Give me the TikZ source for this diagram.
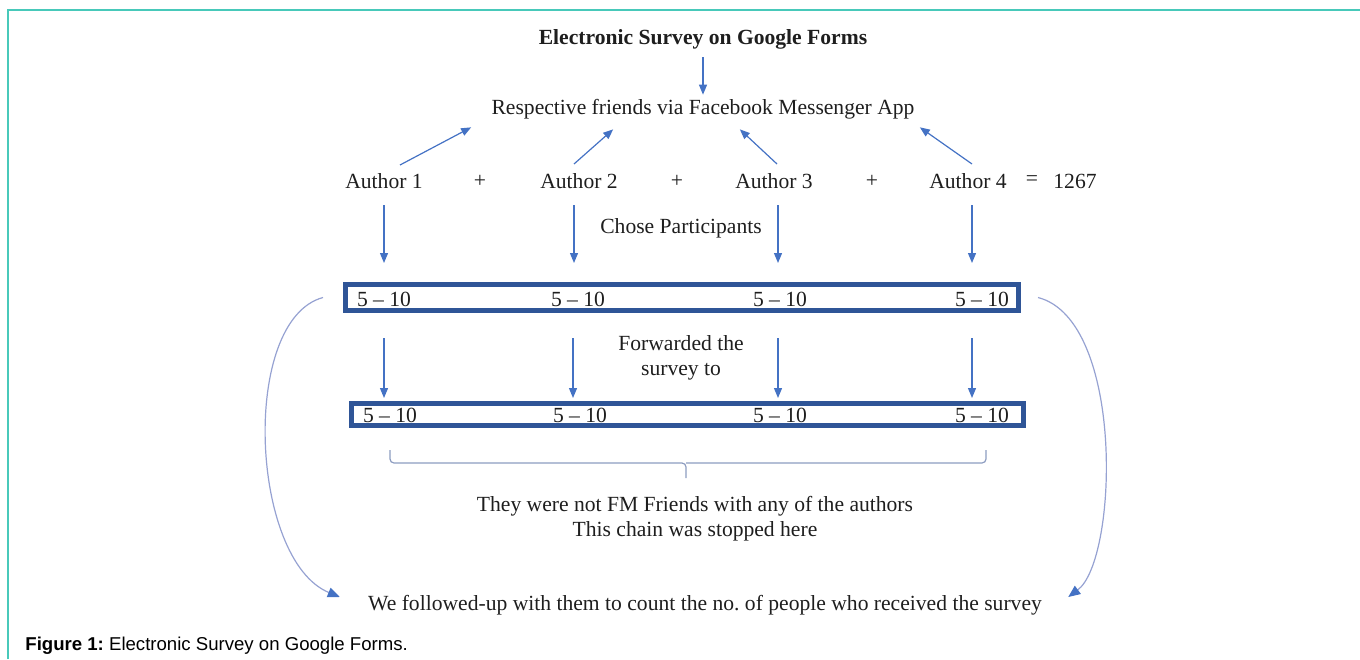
\documentclass[tikz,border=0pt]{standalone}
\usepackage{fontspec}
\setmainfont{Liberation Serif}
\newfontfamily\capfont{Liberation Sans}
\usetikzlibrary{arrows.meta,calc}
\definecolor{framecol}{RGB}{72,201,186}
\definecolor{arrblue}{RGB}{68,114,196}
\definecolor{boxblue}{RGB}{47,85,151}
\definecolor{curveblue}{RGB}{150,162,210}
\definecolor{bracecol}{RGB}{140,156,192}
\definecolor{txt}{RGB}{30,30,30}
\frenchspacing

\begin{document}
\begin{tikzpicture}[x=0.5pt,y=0.5pt]
\tikzstyle{every node}+=[inner sep=0pt, text=txt, font=\fontsize{10.8}{12.5}\selectfont]
\tikzstyle{arr}=[arrblue, line width=0.6pt, -{Triangle[length=5pt,width=4pt]}]
\tikzstyle{curarr}=[curveblue, line width=0.6pt, -{Triangle[length=6pt,width=5pt,color=arrblue]}]
\tikzstyle{rowbox}=[draw=boxblue, line width=2.5pt, fill=none]
\useasboundingbox (0,0) rectangle (1360,-659);
\draw [framecol, line width=1pt] (8,-659) -- (8,-10) -- (1360,-10);
\node (title) at (703,-39) {\textbf{Electronic Survey on Google Forms}};
\node (resp) at (703,-109) {Respective friends via Facebook Messenger App};
\draw [arr, shorten <=4pt, shorten >=2pt] (title.south) -- (resp.north);
\node (a1) at (384,-181) {Author 1};
\node (p1) at (480,-181) {+};
\node (a2) at (579,-181) {Author 2};
\node (p2) at (677,-181) {+};
\node (a3) at (774,-181) {Author 3};
\node (p3) at (872,-181) {+};
\node (a4) at (968,-181) {Author 4};
\node (eq) at (1032,-181) {=};
\node (total) at (1075,-181) {1267};
\draw [arr] ($(a1.north)+(16,8)$) -- ($(resp.south west)+(-20,-8)$);
\draw [arr] ($(a2.north)+(-5,9)$) -- ($(resp.south west)+(122,-10)$);
\draw [arr] ($(a3.north)+(3,9)$) -- ($(resp.south east)+(-175,-10)$);
\draw [arr] ($(a4.north)+(4,9)$) -- ($(resp.south east)+(5,-8)$);
\node (chose) at (681,-228) {Chose Participants};
% first row of participants
\node [rowbox, minimum width=336.5pt, minimum height=13pt] (row1) at (682,-297.5) {};
\node (r11) at (384,-299) {5 -- 10};
\node (r12) at (578,-299) {5 -- 10};
\node (r13) at (780,-299) {5 -- 10};
\node (r14) at (982,-299) {5 -- 10};
\draw [arr, shorten <=8pt, shorten >=9.5pt] (a1.south) -- (a1.south |- row1.north);
\draw [arr, shorten <=8pt, shorten >=9.5pt] (a2.south) ++(-5,0) -- ($(a2.south |- row1.north)+(-5,0)$);
\draw [arr, shorten <=8pt, shorten >=9.5pt] (a3.south) ++(4,0) -- ($(a3.south |- row1.north)+(4,0)$);
\draw [arr, shorten <=8pt, shorten >=9.5pt] (a4.south) ++(4,0) -- ($(a4.south |- row1.north)+(4,0)$);
\node [align=center] (fwd) at (681,-358) {Forwarded the\\survey to};
% second row of participants
\node [rowbox, minimum width=336pt, minimum height=11pt] (row2) at (687.5,-414.5) {};
\node (r21) at (390,-415) {5 -- 10};
\node (r22) at (580,-415) {5 -- 10};
\node (r23) at (780,-415) {5 -- 10};
\node (r24) at (982,-415) {5 -- 10};
\draw [arr, shorten <=12.5pt, shorten >=1.5pt] (a1.south |- row1.south) -- (a1.south |- row2.north);
\draw [arr, shorten <=12.5pt, shorten >=1.5pt] ($(a2.south |- row1.south)+(-6,0)$) -- ($(a2.south |- row2.north)+(-6,0)$);
\draw [arr, shorten <=12.5pt, shorten >=1.5pt] ($(a3.south |- row1.south)+(4,0)$) -- ($(a3.south |- row2.north)+(4,0)$);
\draw [arr, shorten <=12.5pt, shorten >=1.5pt] ($(a4.south |- row1.south)+(4,0)$) -- ($(a4.south |- row2.north)+(4,0)$);
% brace under the second row
\draw [bracecol, line width=0.6pt, rounded corners=2pt] (390,-450) |- (686,-463) -- (686,-478);
\draw [bracecol, line width=0.6pt, rounded corners=2pt] (986,-450) |- (686,-463);
\node [align=center] (stop) at (695,-519) {They were not FM Friends with any of the authors\\This chain was stopped here};
\node (follow) at (705,-605) {We followed-up with them to count the no. of people who received the survey};
\draw [curarr] ($(row1.west)+(-20,0)$) .. controls (240,-320) and (250,-560) .. ($(follow.west)+(-28,8)$);
\draw [curarr] ($(row1.east)+(17,0)$) .. controls (1125,-320) and (1118,-560) .. ($(follow.east)+(26,8)$);
\node [anchor=base west, text=black, font=\capfont\fontsize{9.3}{11}\selectfont] (caption) at (25,-650) {\textbf{Figure 1:} Electronic Survey on Google Forms.};
\end{tikzpicture}
\end{document}
